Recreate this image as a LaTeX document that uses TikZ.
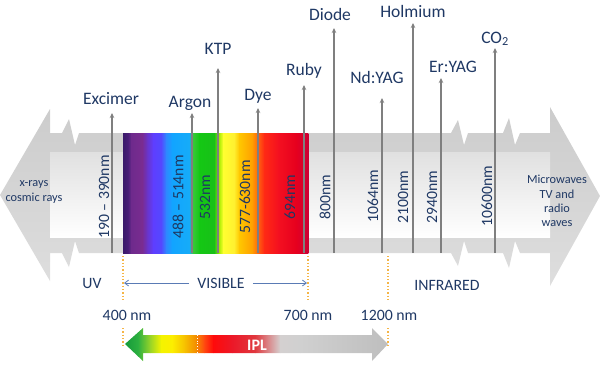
\documentclass[tikz,border=0pt]{standalone}
\usepackage{fontspec}
\setmainfont{Carlito}
\usetikzlibrary{arrows.meta, positioning}
\definecolor{TxtNavy}   {HTML}{1F3864}
\definecolor{LineGray}  {HTML}{7F7F7F}
\definecolor{MarkOrange}{HTML}{F5B547}
\definecolor{VisBlue}   {HTML}{5A7BB5}
\definecolor{ArrTop}    {HTML}{CCCCCC}
\definecolor{ArrMid}    {HTML}{F8F8F8}
\definecolor{ArrBot}    {HTML}{DEDEDE}
\definecolor{BandTop}   {HTML}{E0E0E0}

\tikzset{
  lasername/.style={text=TxtNavy, font=\fontsize{17.5}{20}\selectfont, inner sep=0pt, anchor=base},
  wavelen/.style={text=TxtNavy, font=\fontsize{15.7}{18}\selectfont, rotate=90, inner sep=0pt},
  rangetxt/.style={text=TxtNavy, font=\fontsize{15.8}{18}\selectfont, inner sep=0pt},
  sidetxt/.style={text=TxtNavy, align=center, inner sep=0pt},
  laser/.style={draw=LineGray, line width=1.6pt, -{Stealth[length=5pt,width=4.5pt]}},
  marker/.style={draw=MarkOrange, line width=1.3pt, dotted},
  visarrow/.style={draw=VisBlue, line width=0.8pt, -{Straight Barb[length=4pt,width=6pt]}},
}

\begin{document}
\begin{tikzpicture}[x=1pt, y=-1pt]
  \useasboundingbox (0,0) rectangle (600,368);

  % big double arrow with break marks
  \shade[top color=ArrTop, middle color=ArrMid, bottom color=ArrBot]
    (0,195) -- (50,109) -- (50,133) -- (62,133) -- (69,119) -- (75,145) -- (79,133)
    -- (451,133) -- (458,120) -- (464,145) -- (468,133)
    -- (503,133) -- (509,118) -- (515,145) -- (520,133)
    -- (550,133) -- (550,107) -- (600,196) -- (550,286) -- (550,253)
    -- (520,253) -- (515,241) -- (509,268) -- (503,253)
    -- (468,253) -- (464,241) -- (458,266) -- (451,253)
    -- (79,253) -- (75,241) -- (69,267) -- (62,253)
    -- (50,253) -- (50,281) -- cycle;
  \shade[top color=BandTop, bottom color=white] (50,152) rectangle (550,237);

  % visible spectrum
  \foreach \x/\c [remember=\x as \px (initially 123), remember=\c as \pc (initially 3A1A6A)] in
    {128/4A1E78, 131/6E2A8C, 142/7A2C90, 147/6A34C8, 153/5E3EFF, 161/5448FF,
     166/2E88FF, 172/12A4FF, 189/16ACF8, 193/38C838, 199/14C814, 214/18C018,
     219/A8EE00, 223/FFFF30, 234/FFF030, 239/FFC800, 252/FFA000, 258/FF6010,
     264/FF2A14, 278/F41020, 296/E6001E, 303/D8002C, 308/CC0034}
  {
    \definecolor{prv}{HTML}{\pc}\definecolor{cur}{HTML}{\c}
    \shade[left color=prv, right color=cur] (\px,133) rectangle (\x+0.4,253);
  }

  % side texts
  \node[sidetxt, font=\fontsize{12.3}{15}\selectfont] (xrays) at (34,192) {x-rays\\cosmic rays};
  \node[sidetxt, font=\fontsize{12.3}{14.3}\selectfont] (micro) at (557,201) {Microwaves\\TV and\\radio\\waves};

  % wavelengths
  \node[wavelen] (w-exc) at (104,197) {190 – 390nm};
  \node[wavelen] (w-arg) at (178,197) {488 – 514nm};
  \node[wavelen] (w-ktp) at (205,197) {532nm};
  \node[wavelen] (w-dye) at (245,197) {577-630nm};
  \node[wavelen] (w-ruby) at (290,197) {694nm};
  \node[wavelen] (w-diode) at (325,197) {800nm};
  \node[wavelen] (w-nd) at (373,196) {1064nm};
  \node[wavelen] (w-ho) at (403,197) {2100nm};
  \node[wavelen] (w-er) at (432,197) {2940nm};
  \node[wavelen] (w-co) at (487,196) {10600nm};

  % laser names
  \node[lasername] (excimer) at (111,104) {Excimer};
  \node[lasername] (argon) at (190,107) {Argon};
  \node[lasername] (ktp) at (218,54) {KTP};
  \node[lasername] (dye) at (258,100) {Dye};
  \node[lasername] (ruby) at (304,75) {Ruby};
  \node[lasername] (diode) at (330,20) {Diode};
  \node[lasername] (ndyag) at (377,83) {Nd:YAG};
  \node[lasername] (holmium) at (413,17) {Holmium};
  \node[lasername] (eryag) at (453,72) {Er:YAG};
  \node[lasername] (co2) at (495,43) {CO\textsubscript{2}};

  % laser lines
  \coordinate (exc-b) at (112,253);   \coordinate (exc-t) at (112,113);
  \coordinate (arg-b) at (192,253);   \coordinate (arg-t) at (192,113);
  \coordinate (ktp-b) at (218,253);   \coordinate (ktp-t) at (218,68);
  \coordinate (dye-b) at (258,253);   \coordinate (dye-t) at (258,108);
  \coordinate (ruby-b) at (304,253);  \coordinate (ruby-t) at (304,85);
  \coordinate (diode-b) at (334,253); \coordinate (diode-t) at (334,28);
  \coordinate (nd-b) at (382,253);    \coordinate (nd-t) at (382,98);
  \coordinate (ho-b) at (413,253);    \coordinate (ho-t) at (413,23);
  \coordinate (er-b) at (441,253);    \coordinate (er-t) at (441,78);
  \coordinate (co-b) at (495,253);    \coordinate (co-t) at (495,48);
  \draw[laser] (exc-b) -- (exc-t);
  \draw[laser] (arg-b) -- (arg-t);
  \draw[laser] (ktp-b) -- (ktp-t);
  \draw[laser] (dye-b) -- (dye-t);
  \draw[laser] (ruby-b) -- (ruby-t);
  \draw[laser] (diode-b) -- (diode-t);
  \draw[laser] (nd-b) -- (nd-t);
  \draw[laser] (ho-b) -- (ho-t);
  \draw[laser] (er-b) -- (er-t);
  \draw[laser] (co-b) -- (co-t);

  % range markers
  \coordinate (m400-a) at (123,256);  \coordinate (m400-b) at (123,302);
  \coordinate (m400-c) at (123,328);  \coordinate (m400-d) at (123,347);
  \coordinate (m700-a) at (308,256);  \coordinate (m700-b) at (308,302);
  \coordinate (m1200-a) at (388,256); \coordinate (m1200-b) at (388,302);
  \coordinate (m1200-c) at (388,328); \coordinate (m1200-d) at (388,347);
  \draw[marker] (m400-a) -- (m400-b);
  \draw[marker] (m400-c) -- (m400-d);
  \draw[marker] (m700-a) -- (m700-b);
  \draw[marker] (m1200-a) -- (m1200-b);
  \draw[marker] (m1200-c) -- (m1200-d);

  % band names
  \node[rangetxt] (uv) at (92,283) {UV};
  \node[rangetxt, inner xsep=8pt] (visible) at (221,283) {VISIBLE};
  \node[rangetxt] (infrared) at (447,285) {INFRARED};
  \coordinate (vis-l) at (124,283);
  \coordinate (vis-r) at (307,283);
  \draw[visarrow] (visible.west) -- (vis-l);
  \draw[visarrow] (visible.east) -- (vis-r);

  \node[rangetxt] (nm400) at (127,315) {400 nm};
  \node[rangetxt] (nm700) at (308,315) {700 nm};
  \node[rangetxt] (nm1200) at (389,315) {1200 nm};

  % IPL arrow
  \begin{scope}
    \clip (125,344) -- (143,328) -- (143,335) -- (372,335) -- (372,328) -- (388,344)
      -- (372,361) -- (372,353) -- (143,353) -- (143,361) -- cycle;
    \foreach \x/\c [remember=\x as \px (initially 125), remember=\c as \pc (initially 159A3A)] in
      {138/2DB040, 150/98D428, 161/F4F400, 172/FCEE00, 185/F6BE00, 196/F48C00,
       204/FF4A10, 213/FF0A0A, 232/EC1828, 255/E0383E, 280/D4D0D0, 300/D0D0D0, 388/BEBEBE}
    {
      \definecolor{prv}{HTML}{\pc}\definecolor{cur}{HTML}{\c}
      \shade[left color=prv, right color=cur] (\px,326) rectangle (\x+0.4,363);
    }
  \end{scope}
  \coordinate (ipl-t) at (197,335);
  \coordinate (ipl-b) at (197,353);
  \draw[white, dotted, line width=0.8pt] (ipl-t) -- (ipl-b);
  \node[text=white, font=\fontsize{16}{18}\selectfont\bfseries, inner sep=0pt] (ipl) at (257,345) {IPL};
\end{tikzpicture}
\end{document}
